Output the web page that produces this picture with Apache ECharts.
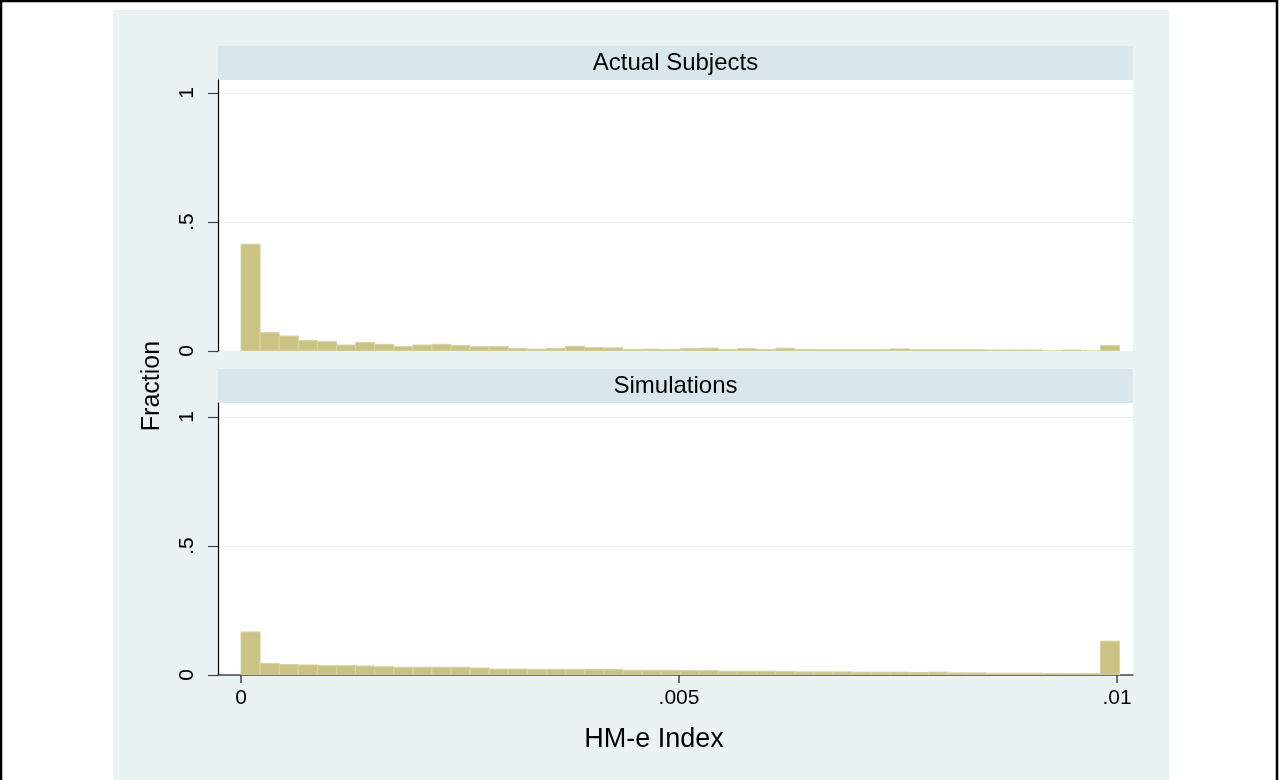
<!DOCTYPE html>
<html>
<head>
<meta charset="utf-8">
<script src="https://cdn.jsdelivr.net/npm/echarts@6/dist/echarts.min.js"></script>
<style>
html,body{margin:0;padding:0;background:#fff;}
#chart{width:1279px;height:780px;}
</style>
</head>
<body>
<div id="chart"></div>
<script>
// ---- data ----
const panelTitles = ['Actual Subjects', 'Simulations'];
const binWidth = 0.000218;           // histogram bin width (HM-e Index units)
const actualFractions = [
  0.414, 0.071, 0.058, 0.041, 0.036, 0.023, 0.033, 0.026, 0.017, 0.023,
  0.026, 0.021, 0.017, 0.017, 0.010, 0.007, 0.010, 0.018, 0.013, 0.012,
  0.006, 0.007, 0.006, 0.009, 0.011, 0.006, 0.009, 0.006, 0.011, 0.006,
  0.005, 0.005, 0.005, 0.005, 0.008, 0.005, 0.005, 0.005, 0.005, 0.004,
  0.004, 0.004, 0.000, 0.004, 0.000, 0.021
];
const simFractions = [
  0.167, 0.045, 0.041, 0.039, 0.036, 0.036, 0.035, 0.032, 0.030, 0.030,
  0.030, 0.030, 0.027, 0.023, 0.023, 0.022, 0.022, 0.022, 0.021, 0.021,
  0.018, 0.018, 0.018, 0.017, 0.017, 0.015, 0.015, 0.015, 0.014, 0.012,
  0.012, 0.012, 0.011, 0.011, 0.011, 0.010, 0.011, 0.008, 0.008, 0.007,
  0.007, 0.007, 0.006, 0.006, 0.006, 0.131
];
const xTickValues = [0, 0.005, 0.01];
const xTickLabels = ['0', '.005', '.01'];
const yTickValues = [0, 0.5, 1];
const yTickLabels = ['0', '.5', '1'];
const xTitle = 'HM-e Index';
const yTitle = 'Fraction';

// ---- layout / style ----
const FONT = "'Liberation Sans', Arial, sans-serif";
const BG = '#eaf2f3';
const STRIP = '#d9e6eb';
const BAR = '#cbc383';
const BAR_EDGE = '#d8d2a2';
const plotLeft = 218, plotRight = 1133;
const grids = [{top: 80, bottom: 351}, {top: 403, bottom: 675}];
const pxPerUnitY = 258;

function toBins(arr) {
  return arr.map((v, i) => [i * binWidth, (i + 1) * binWidth, v]);
}
function fmt(vals, labels) {
  return function (v) {
    for (let i = 0; i < vals.length; i++) if (Math.abs(v - vals[i]) < 1e-9) return labels[i];
    return '';
  };
}
const xMin = -(241 - plotLeft) / 87600;
const xMax = 0.01 + (plotRight - 1117) / 87600;

const chart = echarts.init(document.getElementById('chart'), null, {renderer: 'canvas'});

const gridOpts = grids.map(g => ({
  left: plotLeft, width: plotRight - plotLeft, top: g.top, height: g.bottom - g.top,
  show: true, backgroundColor: '#ffffff', borderWidth: 0, containLabel: false
}));

const xAxes = grids.map((g, i) => ({
  type: 'value', gridIndex: i, min: xMin, max: xMax,
  axisLine: {show: i === 1, onZero: false, lineStyle: {color: '#444', width: 1.5}},
  axisTick: {show: i === 1, length: 8, lineStyle: {color: '#444', width: 1.5}, customValues: xTickValues},
  axisLabel: {show: i === 1, customValues: xTickValues, formatter: fmt(xTickValues, xTickLabels),
    fontFamily: FONT, fontSize: 21, color: '#000', margin: 13},
  splitLine: {show: false}
}));

const yAxes = grids.map((g, i) => ({
  type: 'value', gridIndex: i, min: 0, max: (g.bottom - g.top) / pxPerUnitY,
  axisLine: {show: true, onZero: false, lineStyle: {color: '#000', width: 1.2}},
  axisTick: {show: true, length: 10, lineStyle: {color: '#444', width: 1.2}, customValues: yTickValues},
  axisLabel: {show: true, customValues: yTickValues, formatter: fmt(yTickValues, yTickLabels),
    rotate: 90, fontFamily: FONT, fontSize: 21, color: '#000', margin: 20},
  splitLine: {show: true, lineStyle: {color: BG, width: 1.2}}
}));

function renderBar(params, api) {
  const p0 = api.coord([api.value(0), api.value(2)]);
  const p1 = api.coord([api.value(1), 0]);
  return {
    type: 'rect',
    shape: {x: p0[0], y: p0[1], width: p1[0] - p0[0], height: p1[1] - p0[1]},
    style: {fill: BAR, stroke: BAR_EDGE, lineWidth: 1}
  };
}

const series = [actualFractions, simFractions].map((arr, i) => ({
  type: 'custom', xAxisIndex: i, yAxisIndex: i,
  renderItem: renderBar, data: toBins(arr), encode: {x: [0, 1], y: 2},
  clip: true, silent: true
}));

const graphics = [
  {type: 'rect', z: -100, shape: {x: 113, y: 10, width: 1056, height: 775}, style: {fill: BG}, silent: true},
  {type: 'rect', z: -90, shape: {x: plotLeft, y: 46, width: plotRight - plotLeft, height: 34}, style: {fill: STRIP}, silent: true},
  {type: 'rect', z: -90, shape: {x: plotLeft, y: 369, width: plotRight - plotLeft, height: 34}, style: {fill: STRIP}, silent: true},
  {type: 'text', z: 10, x: (plotLeft + plotRight) / 2, y: 63,
    style: {text: panelTitles[0], font: '24px ' + FONT, fill: '#000', textAlign: 'center', textVerticalAlign: 'middle'}},
  {type: 'text', z: 10, x: (plotLeft + plotRight) / 2, y: 386,
    style: {text: panelTitles[1], font: '24px ' + FONT, fill: '#000', textAlign: 'center', textVerticalAlign: 'middle'}},
  {type: 'text', z: 10, x: 654, y: 740,
    style: {text: xTitle, font: '27px ' + FONT, fill: '#000', textAlign: 'center', textVerticalAlign: 'middle'}},
  {type: 'text', z: 10, x: 152, y: 386, rotation: Math.PI / 2,
    style: {text: yTitle, font: '25px ' + FONT, fill: '#000', textAlign: 'center', textVerticalAlign: 'middle'}},
  {type: 'polyline', z: 20, shape: {points: [[1, 790], [1, 1], [1277, 1], [1277, 790]]},
    style: {stroke: '#000', lineWidth: 2.5, fill: null}, silent: true}
];

chart.setOption({
  backgroundColor: '#ffffff',
  animation: false,
  grid: gridOpts,
  xAxis: xAxes,
  yAxis: yAxes,
  series: series,
  graphic: graphics
});
</script>
</body>
</html>
